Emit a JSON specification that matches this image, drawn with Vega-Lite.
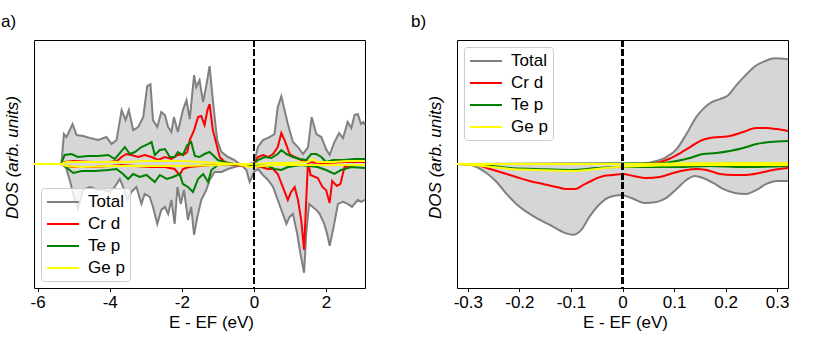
{
"$schema": "https://vega.github.io/schema/vega-lite/v6.json",
"padding": {"left": 0, "top": 12, "right": 0, "bottom": 0},
"config": {
 "font": "Liberation Sans",
 "view": {"stroke": "black", "strokeWidth": 1},
 "axis": {"grid": false, "domain": false, "labelFont": "Liberation Sans", "labelFontSize": 17, "labelColor": "black", "titleFont": "Liberation Sans", "titleFontSize": 17, "titleFontWeight": "normal", "titleColor": "black", "tickColor": "black", "tickSize": 3.5, "tickWidth": 1, "labelPadding": 3},
 "legend": {"title": null, "symbolType": "M-1,0H3", "symbolSize": 256, "symbolStrokeWidth": 2, "labelOffset": 24, "labelFont": "Liberation Sans", "labelFontSize": 17, "labelColor": "black", "padding": 5, "rowPadding": 5, "fillColor": "rgba(255,255,255,0.8)", "strokeColor": "#cccccc", "cornerRadius": 3},
 "title": {"font": "Liberation Sans", "fontSize": 17, "fontWeight": "normal", "color": "black", "anchor": "start", "frame": "group"}
},
"datasets": {
"a": [
{"E":-6.1,"series":"Total","spin":"up","dos":0},{"E":-5.34,"series":"Total","spin":"up","dos":0},{"E":-5.27,"series":"Total","spin":"up","dos":30},{"E":-5.2,"series":"Total","spin":"up","dos":27},{"E":-5.03,"series":"Total","spin":"up","dos":40},{"E":-4.92,"series":"Total","spin":"up","dos":29},{"E":-4.74,"series":"Total","spin":"up","dos":28},{"E":-4.55,"series":"Total","spin":"up","dos":26},{"E":-4.32,"series":"Total","spin":"up","dos":24},{"E":-4.09,"series":"Total","spin":"up","dos":27},{"E":-3.95,"series":"Total","spin":"up","dos":20},{"E":-3.81,"series":"Total","spin":"up","dos":24},{"E":-3.67,"series":"Total","spin":"up","dos":54},{"E":-3.56,"series":"Total","spin":"up","dos":44},{"E":-3.47,"series":"Total","spin":"up","dos":54},{"E":-3.35,"series":"Total","spin":"up","dos":34},{"E":-3.21,"series":"Total","spin":"up","dos":37},{"E":-3.07,"series":"Total","spin":"up","dos":47},{"E":-2.96,"series":"Total","spin":"up","dos":78},{"E":-2.87,"series":"Total","spin":"up","dos":80},{"E":-2.8,"series":"Total","spin":"up","dos":44},{"E":-2.68,"series":"Total","spin":"up","dos":37},{"E":-2.57,"series":"Total","spin":"up","dos":52},{"E":-2.47,"series":"Total","spin":"up","dos":49},{"E":-2.38,"series":"Total","spin":"up","dos":37},{"E":-2.29,"series":"Total","spin":"up","dos":32},{"E":-2.22,"series":"Total","spin":"up","dos":47},{"E":-2.11,"series":"Total","spin":"up","dos":32},{"E":-1.97,"series":"Total","spin":"up","dos":54},{"E":-1.87,"series":"Total","spin":"up","dos":64},{"E":-1.78,"series":"Total","spin":"up","dos":45},{"E":-1.66,"series":"Total","spin":"up","dos":89},{"E":-1.6,"series":"Total","spin":"up","dos":77},{"E":-1.51,"series":"Total","spin":"up","dos":84},{"E":-1.41,"series":"Total","spin":"up","dos":62},{"E":-1.32,"series":"Total","spin":"up","dos":79},{"E":-1.23,"series":"Total","spin":"up","dos":98},{"E":-1.14,"series":"Total","spin":"up","dos":64},{"E":-1.02,"series":"Total","spin":"up","dos":24},{"E":-0.9,"series":"Total","spin":"up","dos":12},{"E":-0.72,"series":"Total","spin":"up","dos":7},{"E":-0.54,"series":"Total","spin":"up","dos":4},{"E":-0.4,"series":"Total","spin":"up","dos":0},{"E":-0.17,"series":"Total","spin":"up","dos":0},{"E":0,"series":"Total","spin":"up","dos":1},{"E":0.11,"series":"Total","spin":"up","dos":17},{"E":0.25,"series":"Total","spin":"up","dos":24},{"E":0.43,"series":"Total","spin":"up","dos":27},{"E":0.57,"series":"Total","spin":"up","dos":30},{"E":0.66,"series":"Total","spin":"up","dos":57},{"E":0.76,"series":"Total","spin":"up","dos":68},{"E":0.85,"series":"Total","spin":"up","dos":54},{"E":0.94,"series":"Total","spin":"up","dos":40},{"E":1.08,"series":"Total","spin":"up","dos":22},{"E":1.22,"series":"Total","spin":"up","dos":17},{"E":1.36,"series":"Total","spin":"up","dos":10},{"E":1.5,"series":"Total","spin":"up","dos":17},{"E":1.6,"series":"Total","spin":"up","dos":47},{"E":1.73,"series":"Total","spin":"up","dos":30},{"E":1.87,"series":"Total","spin":"up","dos":27},{"E":2.0,"series":"Total","spin":"up","dos":15},{"E":2.1,"series":"Total","spin":"up","dos":9},{"E":2.22,"series":"Total","spin":"up","dos":21},{"E":2.36,"series":"Total","spin":"up","dos":31},{"E":2.47,"series":"Total","spin":"up","dos":26},{"E":2.6,"series":"Total","spin":"up","dos":42},{"E":2.7,"series":"Total","spin":"up","dos":36},{"E":2.79,"series":"Total","spin":"up","dos":49},{"E":2.88,"series":"Total","spin":"up","dos":50},{"E":2.97,"series":"Total","spin":"up","dos":40},{"E":3.03,"series":"Total","spin":"up","dos":42},{"E":3.08,"series":"Total","spin":"up","dos":39},
{"E":-6.1,"series":"Total","spin":"dn","dos":0},{"E":-5.3,"series":"Total","spin":"dn","dos":0},{"E":-5.2,"series":"Total","spin":"dn","dos":-5},{"E":-5.11,"series":"Total","spin":"dn","dos":-16},{"E":-5.01,"series":"Total","spin":"dn","dos":-30},{"E":-4.88,"series":"Total","spin":"dn","dos":-45},{"E":-4.74,"series":"Total","spin":"dn","dos":-26},{"E":-4.55,"series":"Total","spin":"dn","dos":-23},{"E":-4.32,"series":"Total","spin":"dn","dos":-26},{"E":-4.14,"series":"Total","spin":"dn","dos":-26},{"E":-4.0,"series":"Total","spin":"dn","dos":-28},{"E":-3.86,"series":"Total","spin":"dn","dos":-23},{"E":-3.72,"series":"Total","spin":"dn","dos":-15},{"E":-3.63,"series":"Total","spin":"dn","dos":-23},{"E":-3.51,"series":"Total","spin":"dn","dos":-36},{"E":-3.4,"series":"Total","spin":"dn","dos":-28},{"E":-3.26,"series":"Total","spin":"dn","dos":-23},{"E":-3.12,"series":"Total","spin":"dn","dos":-40},{"E":-3.03,"series":"Total","spin":"dn","dos":-30},{"E":-2.89,"series":"Total","spin":"dn","dos":-33},{"E":-2.8,"series":"Total","spin":"dn","dos":-43},{"E":-2.68,"series":"Total","spin":"dn","dos":-60},{"E":-2.57,"series":"Total","spin":"dn","dos":-46},{"E":-2.47,"series":"Total","spin":"dn","dos":-43},{"E":-2.38,"series":"Total","spin":"dn","dos":-50},{"E":-2.29,"series":"Total","spin":"dn","dos":-36},{"E":-2.2,"series":"Total","spin":"dn","dos":-60},{"E":-2.12,"series":"Total","spin":"dn","dos":-23},{"E":-2.03,"series":"Total","spin":"dn","dos":-40},{"E":-1.94,"series":"Total","spin":"dn","dos":-26},{"E":-1.83,"series":"Total","spin":"dn","dos":-56},{"E":-1.74,"series":"Total","spin":"dn","dos":-43},{"E":-1.66,"series":"Total","spin":"dn","dos":-71},{"E":-1.57,"series":"Total","spin":"dn","dos":-53},{"E":-1.46,"series":"Total","spin":"dn","dos":-36},{"E":-1.32,"series":"Total","spin":"dn","dos":-26},{"E":-1.23,"series":"Total","spin":"dn","dos":-16},{"E":-1.09,"series":"Total","spin":"dn","dos":-8},{"E":-0.9,"series":"Total","spin":"dn","dos":-8},{"E":-0.72,"series":"Total","spin":"dn","dos":-5},{"E":-0.54,"series":"Total","spin":"dn","dos":-3},{"E":-0.35,"series":"Total","spin":"dn","dos":-1},{"E":-0.21,"series":"Total","spin":"dn","dos":-6},{"E":-0.12,"series":"Total","spin":"dn","dos":-18},{"E":0,"series":"Total","spin":"dn","dos":-8},{"E":0.11,"series":"Total","spin":"dn","dos":-5},{"E":0.25,"series":"Total","spin":"dn","dos":-11},{"E":0.39,"series":"Total","spin":"dn","dos":-16},{"E":0.53,"series":"Total","spin":"dn","dos":-23},{"E":0.66,"series":"Total","spin":"dn","dos":-36},{"E":0.8,"series":"Total","spin":"dn","dos":-50},{"E":0.9,"series":"Total","spin":"dn","dos":-60},{"E":0.99,"series":"Total","spin":"dn","dos":-53},{"E":1.08,"series":"Total","spin":"dn","dos":-50},{"E":1.2,"series":"Total","spin":"dn","dos":-70},{"E":1.29,"series":"Total","spin":"dn","dos":-90},{"E":1.39,"series":"Total","spin":"dn","dos":-109},{"E":1.45,"series":"Total","spin":"dn","dos":-70},{"E":1.53,"series":"Total","spin":"dn","dos":-40},{"E":1.63,"series":"Total","spin":"dn","dos":-43},{"E":1.73,"series":"Total","spin":"dn","dos":-46},{"E":1.82,"series":"Total","spin":"dn","dos":-50},{"E":1.95,"series":"Total","spin":"dn","dos":-60},{"E":2.03,"series":"Total","spin":"dn","dos":-70},{"E":2.1,"series":"Total","spin":"dn","dos":-82},{"E":2.2,"series":"Total","spin":"dn","dos":-65},{"E":2.33,"series":"Total","spin":"dn","dos":-40},{"E":2.47,"series":"Total","spin":"dn","dos":-38},{"E":2.6,"series":"Total","spin":"dn","dos":-40},{"E":2.72,"series":"Total","spin":"dn","dos":-43},{"E":2.88,"series":"Total","spin":"dn","dos":-36},{"E":2.97,"series":"Total","spin":"dn","dos":-38},{"E":3.08,"series":"Total","spin":"dn","dos":-36},
{"E":-6.1,"series":"Cr d","spin":"up","dos":0},{"E":-5.35,"series":"Cr d","spin":"up","dos":0},{"E":-5.25,"series":"Cr d","spin":"up","dos":2},{"E":-5.0,"series":"Cr d","spin":"up","dos":3},{"E":-4.5,"series":"Cr d","spin":"up","dos":2},{"E":-4.0,"series":"Cr d","spin":"up","dos":2},{"E":-3.8,"series":"Cr d","spin":"up","dos":3},{"E":-3.67,"series":"Cr d","spin":"up","dos":7},{"E":-3.54,"series":"Cr d","spin":"up","dos":10},{"E":-3.4,"series":"Cr d","spin":"up","dos":9},{"E":-3.21,"series":"Cr d","spin":"up","dos":7},{"E":-3.03,"series":"Cr d","spin":"up","dos":9},{"E":-2.84,"series":"Cr d","spin":"up","dos":7},{"E":-2.66,"series":"Cr d","spin":"up","dos":4},{"E":-2.47,"series":"Cr d","spin":"up","dos":7},{"E":-2.29,"series":"Cr d","spin":"up","dos":5},{"E":-2.11,"series":"Cr d","spin":"up","dos":9},{"E":-1.92,"series":"Cr d","spin":"up","dos":10},{"E":-1.85,"series":"Cr d","spin":"up","dos":12},{"E":-1.78,"series":"Cr d","spin":"up","dos":24},{"E":-1.66,"series":"Cr d","spin":"up","dos":34},{"E":-1.55,"series":"Cr d","spin":"up","dos":47},{"E":-1.46,"series":"Cr d","spin":"up","dos":48},{"E":-1.37,"series":"Cr d","spin":"up","dos":39},{"E":-1.29,"series":"Cr d","spin":"up","dos":54},{"E":-1.23,"series":"Cr d","spin":"up","dos":60},{"E":-1.14,"series":"Cr d","spin":"up","dos":34},{"E":-1.04,"series":"Cr d","spin":"up","dos":20},{"E":-0.95,"series":"Cr d","spin":"up","dos":7},{"E":-0.81,"series":"Cr d","spin":"up","dos":2},{"E":-0.6,"series":"Cr d","spin":"up","dos":0},{"E":0,"series":"Cr d","spin":"up","dos":0},{"E":0.11,"series":"Cr d","spin":"up","dos":7},{"E":0.25,"series":"Cr d","spin":"up","dos":9},{"E":0.39,"series":"Cr d","spin":"up","dos":7},{"E":0.53,"series":"Cr d","spin":"up","dos":10},{"E":0.66,"series":"Cr d","spin":"up","dos":17},{"E":0.76,"series":"Cr d","spin":"up","dos":31},{"E":0.85,"series":"Cr d","spin":"up","dos":24},{"E":0.99,"series":"Cr d","spin":"up","dos":10},{"E":1.13,"series":"Cr d","spin":"up","dos":7},{"E":1.31,"series":"Cr d","spin":"up","dos":4},{"E":1.5,"series":"Cr d","spin":"up","dos":2},{"E":1.8,"series":"Cr d","spin":"up","dos":1},{"E":2.0,"series":"Cr d","spin":"up","dos":1},{"E":2.5,"series":"Cr d","spin":"up","dos":2},{"E":3.08,"series":"Cr d","spin":"up","dos":2},
{"E":-6.1,"series":"Cr d","spin":"dn","dos":0},{"E":-5.35,"series":"Cr d","spin":"dn","dos":0},{"E":-5.25,"series":"Cr d","spin":"dn","dos":-2},{"E":-5.0,"series":"Cr d","spin":"dn","dos":-3},{"E":-4.5,"series":"Cr d","spin":"dn","dos":-3},{"E":-4.0,"series":"Cr d","spin":"dn","dos":-2},{"E":-3.67,"series":"Cr d","spin":"dn","dos":-1},{"E":-3.3,"series":"Cr d","spin":"dn","dos":-2},{"E":-2.84,"series":"Cr d","spin":"dn","dos":-3},{"E":-2.47,"series":"Cr d","spin":"dn","dos":-3},{"E":-2.2,"series":"Cr d","spin":"dn","dos":-5},{"E":-2.06,"series":"Cr d","spin":"dn","dos":-11},{"E":-1.97,"series":"Cr d","spin":"dn","dos":-5},{"E":-1.8,"series":"Cr d","spin":"dn","dos":-3},{"E":-1.5,"series":"Cr d","spin":"dn","dos":-2},{"E":-1.2,"series":"Cr d","spin":"dn","dos":-1},{"E":-0.8,"series":"Cr d","spin":"dn","dos":0},{"E":-0.26,"series":"Cr d","spin":"dn","dos":-2},{"E":0,"series":"Cr d","spin":"dn","dos":-2},{"E":0.2,"series":"Cr d","spin":"dn","dos":-3},{"E":0.39,"series":"Cr d","spin":"dn","dos":-5},{"E":0.53,"series":"Cr d","spin":"dn","dos":-5},{"E":0.66,"series":"Cr d","spin":"dn","dos":-10},{"E":0.8,"series":"Cr d","spin":"dn","dos":-23},{"E":0.94,"series":"Cr d","spin":"dn","dos":-36},{"E":1.03,"series":"Cr d","spin":"dn","dos":-28},{"E":1.13,"series":"Cr d","spin":"dn","dos":-23},{"E":1.22,"series":"Cr d","spin":"dn","dos":-36},{"E":1.31,"series":"Cr d","spin":"dn","dos":-56},{"E":1.39,"series":"Cr d","spin":"dn","dos":-86},{"E":1.45,"series":"Cr d","spin":"dn","dos":-36},{"E":1.5,"series":"Cr d","spin":"dn","dos":3},{"E":1.57,"series":"Cr d","spin":"dn","dos":-11},{"E":1.77,"series":"Cr d","spin":"dn","dos":-14},{"E":1.9,"series":"Cr d","spin":"dn","dos":-23},{"E":2.0,"series":"Cr d","spin":"dn","dos":-26},{"E":2.1,"series":"Cr d","spin":"dn","dos":-39},{"E":2.17,"series":"Cr d","spin":"dn","dos":-17},{"E":2.3,"series":"Cr d","spin":"dn","dos":-22},{"E":2.4,"series":"Cr d","spin":"dn","dos":-20},{"E":2.51,"series":"Cr d","spin":"dn","dos":-3},{"E":2.7,"series":"Cr d","spin":"dn","dos":-1},{"E":3.08,"series":"Cr d","spin":"dn","dos":-1},
{"E":-6.1,"series":"Te p","spin":"up","dos":0},{"E":-5.35,"series":"Te p","spin":"up","dos":0},{"E":-5.25,"series":"Te p","spin":"up","dos":9},{"E":-5.06,"series":"Te p","spin":"up","dos":10},{"E":-4.88,"series":"Te p","spin":"up","dos":7},{"E":-4.6,"series":"Te p","spin":"up","dos":8},{"E":-4.32,"series":"Te p","spin":"up","dos":8},{"E":-4.04,"series":"Te p","spin":"up","dos":9},{"E":-3.86,"series":"Te p","spin":"up","dos":5},{"E":-3.72,"series":"Te p","spin":"up","dos":11},{"E":-3.58,"series":"Te p","spin":"up","dos":17},{"E":-3.44,"series":"Te p","spin":"up","dos":10},{"E":-3.3,"series":"Te p","spin":"up","dos":12},{"E":-3.12,"series":"Te p","spin":"up","dos":17},{"E":-2.94,"series":"Te p","spin":"up","dos":20},{"E":-2.84,"series":"Te p","spin":"up","dos":22},{"E":-2.75,"series":"Te p","spin":"up","dos":9},{"E":-2.61,"series":"Te p","spin":"up","dos":14},{"E":-2.47,"series":"Te p","spin":"up","dos":15},{"E":-2.33,"series":"Te p","spin":"up","dos":7},{"E":-2.2,"series":"Te p","spin":"up","dos":7},{"E":-2.11,"series":"Te p","spin":"up","dos":12},{"E":-1.97,"series":"Te p","spin":"up","dos":9},{"E":-1.85,"series":"Te p","spin":"up","dos":19},{"E":-1.74,"series":"Te p","spin":"up","dos":22},{"E":-1.64,"series":"Te p","spin":"up","dos":8},{"E":-1.51,"series":"Te p","spin":"up","dos":7},{"E":-1.37,"series":"Te p","spin":"up","dos":10},{"E":-1.23,"series":"Te p","spin":"up","dos":12},{"E":-1.14,"series":"Te p","spin":"up","dos":9},{"E":-1.0,"series":"Te p","spin":"up","dos":4},{"E":-0.72,"series":"Te p","spin":"up","dos":1},{"E":-0.54,"series":"Te p","spin":"up","dos":0},{"E":0,"series":"Te p","spin":"up","dos":0},{"E":0.11,"series":"Te p","spin":"up","dos":4},{"E":0.3,"series":"Te p","spin":"up","dos":7},{"E":0.48,"series":"Te p","spin":"up","dos":6},{"E":0.66,"series":"Te p","spin":"up","dos":10},{"E":0.76,"series":"Te p","spin":"up","dos":14},{"E":0.9,"series":"Te p","spin":"up","dos":10},{"E":1.08,"series":"Te p","spin":"up","dos":7},{"E":1.27,"series":"Te p","spin":"up","dos":5},{"E":1.45,"series":"Te p","spin":"up","dos":4},{"E":1.59,"series":"Te p","spin":"up","dos":10},{"E":1.73,"series":"Te p","spin":"up","dos":10},{"E":1.87,"series":"Te p","spin":"up","dos":7},{"E":2.0,"series":"Te p","spin":"up","dos":2},{"E":2.2,"series":"Te p","spin":"up","dos":4},{"E":2.5,"series":"Te p","spin":"up","dos":4},{"E":2.8,"series":"Te p","spin":"up","dos":5},{"E":3.08,"series":"Te p","spin":"up","dos":5},
{"E":-6.1,"series":"Te p","spin":"dn","dos":0},{"E":-5.3,"series":"Te p","spin":"dn","dos":0},{"E":-5.15,"series":"Te p","spin":"dn","dos":-5},{"E":-5.01,"series":"Te p","spin":"dn","dos":-9},{"E":-4.78,"series":"Te p","spin":"dn","dos":-7},{"E":-4.41,"series":"Te p","spin":"dn","dos":-7},{"E":-4.04,"series":"Te p","spin":"dn","dos":-6},{"E":-3.81,"series":"Te p","spin":"dn","dos":-5},{"E":-3.63,"series":"Te p","spin":"dn","dos":-10},{"E":-3.49,"series":"Te p","spin":"dn","dos":-15},{"E":-3.35,"series":"Te p","spin":"dn","dos":-10},{"E":-3.17,"series":"Te p","spin":"dn","dos":-13},{"E":-2.98,"series":"Te p","spin":"dn","dos":-11},{"E":-2.75,"series":"Te p","spin":"dn","dos":-18},{"E":-2.61,"series":"Te p","spin":"dn","dos":-11},{"E":-2.42,"series":"Te p","spin":"dn","dos":-15},{"E":-2.24,"series":"Te p","spin":"dn","dos":-13},{"E":-2.06,"series":"Te p","spin":"dn","dos":-10},{"E":-1.97,"series":"Te p","spin":"dn","dos":-20},{"E":-1.83,"series":"Te p","spin":"dn","dos":-23},{"E":-1.69,"series":"Te p","spin":"dn","dos":-28},{"E":-1.55,"series":"Te p","spin":"dn","dos":-15},{"E":-1.41,"series":"Te p","spin":"dn","dos":-10},{"E":-1.27,"series":"Te p","spin":"dn","dos":-18},{"E":-1.18,"series":"Te p","spin":"dn","dos":-6},{"E":-1.0,"series":"Te p","spin":"dn","dos":-1},{"E":-0.5,"series":"Te p","spin":"dn","dos":0},{"E":0,"series":"Te p","spin":"dn","dos":-1},{"E":0.39,"series":"Te p","spin":"dn","dos":-2},{"E":0.57,"series":"Te p","spin":"dn","dos":-5},{"E":0.76,"series":"Te p","spin":"dn","dos":-6},{"E":0.94,"series":"Te p","spin":"dn","dos":-3},{"E":1.31,"series":"Te p","spin":"dn","dos":-1},{"E":1.77,"series":"Te p","spin":"dn","dos":-3},{"E":2.0,"series":"Te p","spin":"dn","dos":-6},{"E":2.23,"series":"Te p","spin":"dn","dos":-10},{"E":2.42,"series":"Te p","spin":"dn","dos":-6},{"E":2.7,"series":"Te p","spin":"dn","dos":-3},{"E":3.08,"series":"Te p","spin":"dn","dos":-4},
{"E":-6.1,"series":"Ge p","spin":"up","dos":0},{"E":-5.35,"series":"Ge p","spin":"up","dos":0},{"E":-5.2,"series":"Ge p","spin":"up","dos":2},{"E":-4.5,"series":"Ge p","spin":"up","dos":2},{"E":-3.5,"series":"Ge p","spin":"up","dos":2},{"E":-3.0,"series":"Ge p","spin":"up","dos":3},{"E":-2.5,"series":"Ge p","spin":"up","dos":3},{"E":-2.0,"series":"Ge p","spin":"up","dos":3},{"E":-1.5,"series":"Ge p","spin":"up","dos":2},{"E":-1.0,"series":"Ge p","spin":"up","dos":1},{"E":-0.5,"series":"Ge p","spin":"up","dos":0},{"E":0,"series":"Ge p","spin":"up","dos":0},{"E":0.5,"series":"Ge p","spin":"up","dos":1},{"E":1.0,"series":"Ge p","spin":"up","dos":1},{"E":1.5,"series":"Ge p","spin":"up","dos":2},{"E":1.63,"series":"Ge p","spin":"up","dos":5},{"E":1.75,"series":"Ge p","spin":"up","dos":2},{"E":2.2,"series":"Ge p","spin":"up","dos":2},{"E":2.6,"series":"Ge p","spin":"up","dos":3},{"E":3.08,"series":"Ge p","spin":"up","dos":3},
{"E":-6.1,"series":"Ge p","spin":"dn","dos":0},{"E":-5.35,"series":"Ge p","spin":"dn","dos":0},{"E":-5.2,"series":"Ge p","spin":"dn","dos":-2},{"E":-4.8,"series":"Ge p","spin":"dn","dos":-3},{"E":-4.0,"series":"Ge p","spin":"dn","dos":-2},{"E":-3.0,"series":"Ge p","spin":"dn","dos":-2},{"E":-2.0,"series":"Ge p","spin":"dn","dos":-2},{"E":-1.0,"series":"Ge p","spin":"dn","dos":-1},{"E":-0.5,"series":"Ge p","spin":"dn","dos":0},{"E":-0.1,"series":"Ge p","spin":"dn","dos":-3},{"E":0.2,"series":"Ge p","spin":"dn","dos":-2},{"E":0.8,"series":"Ge p","spin":"dn","dos":-1},{"E":1.5,"series":"Ge p","spin":"dn","dos":-1},{"E":2.0,"series":"Ge p","spin":"dn","dos":-1},{"E":3.08,"series":"Ge p","spin":"dn","dos":-1}
],
"b": [
{"E":-0.321,"series":"Total","spin":"up","dos":0},{"E":0.04,"series":"Total","spin":"up","dos":0.5},{"E":0.066,"series":"Total","spin":"up","dos":3},{"E":0.085,"series":"Total","spin":"up","dos":7},{"E":0.105,"series":"Total","spin":"up","dos":15},{"E":0.124,"series":"Total","spin":"up","dos":30},{"E":0.143,"series":"Total","spin":"up","dos":47},{"E":0.156,"series":"Total","spin":"up","dos":55},{"E":0.173,"series":"Total","spin":"up","dos":62},{"E":0.189,"series":"Total","spin":"up","dos":65},{"E":0.205,"series":"Total","spin":"up","dos":69},{"E":0.221,"series":"Total","spin":"up","dos":79},{"E":0.237,"series":"Total","spin":"up","dos":88},{"E":0.257,"series":"Total","spin":"up","dos":98},{"E":0.276,"series":"Total","spin":"up","dos":103},{"E":0.295,"series":"Total","spin":"up","dos":106},{"E":0.321,"series":"Total","spin":"up","dos":105},
{"E":-0.321,"series":"Total","spin":"dn","dos":0},{"E":-0.302,"series":"Total","spin":"dn","dos":0},{"E":-0.283,"series":"Total","spin":"dn","dos":-3},{"E":-0.264,"series":"Total","spin":"dn","dos":-9},{"E":-0.244,"series":"Total","spin":"dn","dos":-18},{"E":-0.225,"series":"Total","spin":"dn","dos":-30},{"E":-0.206,"series":"Total","spin":"dn","dos":-40},{"E":-0.186,"series":"Total","spin":"dn","dos":-48},{"E":-0.164,"series":"Total","spin":"dn","dos":-55},{"E":-0.141,"series":"Total","spin":"dn","dos":-61},{"E":-0.112,"series":"Total","spin":"dn","dos":-69},{"E":-0.096,"series":"Total","spin":"dn","dos":-71},{"E":-0.08,"series":"Total","spin":"dn","dos":-66},{"E":-0.063,"series":"Total","spin":"dn","dos":-52},{"E":-0.044,"series":"Total","spin":"dn","dos":-40},{"E":-0.025,"series":"Total","spin":"dn","dos":-33},{"E":-0.002,"series":"Total","spin":"dn","dos":-31},{"E":0.017,"series":"Total","spin":"dn","dos":-34},{"E":0.043,"series":"Total","spin":"dn","dos":-39},{"E":0.066,"series":"Total","spin":"dn","dos":-38},{"E":0.085,"series":"Total","spin":"dn","dos":-34},{"E":0.105,"series":"Total","spin":"dn","dos":-25},{"E":0.124,"series":"Total","spin":"dn","dos":-16},{"E":0.14,"series":"Total","spin":"dn","dos":-12},{"E":0.156,"series":"Total","spin":"dn","dos":-14},{"E":0.176,"series":"Total","spin":"dn","dos":-19},{"E":0.195,"series":"Total","spin":"dn","dos":-25},{"E":0.218,"series":"Total","spin":"dn","dos":-29},{"E":0.24,"series":"Total","spin":"dn","dos":-30},{"E":0.26,"series":"Total","spin":"dn","dos":-26},{"E":0.279,"series":"Total","spin":"dn","dos":-20},{"E":0.299,"series":"Total","spin":"dn","dos":-17},{"E":0.321,"series":"Total","spin":"dn","dos":-17},
{"E":-0.321,"series":"Cr d","spin":"up","dos":0},{"E":0.04,"series":"Cr d","spin":"up","dos":0},{"E":0.066,"series":"Cr d","spin":"up","dos":1},{"E":0.085,"series":"Cr d","spin":"up","dos":4},{"E":0.105,"series":"Cr d","spin":"up","dos":9},{"E":0.131,"series":"Cr d","spin":"up","dos":17},{"E":0.15,"series":"Cr d","spin":"up","dos":23},{"E":0.169,"series":"Cr d","spin":"up","dos":26},{"E":0.189,"series":"Cr d","spin":"up","dos":27},{"E":0.208,"series":"Cr d","spin":"up","dos":28},{"E":0.234,"series":"Cr d","spin":"up","dos":32},{"E":0.26,"series":"Cr d","spin":"up","dos":36},{"E":0.279,"series":"Cr d","spin":"up","dos":36},{"E":0.299,"series":"Cr d","spin":"up","dos":35},{"E":0.321,"series":"Cr d","spin":"up","dos":33},
{"E":-0.321,"series":"Cr d","spin":"dn","dos":0},{"E":-0.283,"series":"Cr d","spin":"dn","dos":-1},{"E":-0.257,"series":"Cr d","spin":"dn","dos":-5},{"E":-0.231,"series":"Cr d","spin":"dn","dos":-9},{"E":-0.206,"series":"Cr d","spin":"dn","dos":-13},{"E":-0.18,"series":"Cr d","spin":"dn","dos":-17},{"E":-0.154,"series":"Cr d","spin":"dn","dos":-20},{"E":-0.128,"series":"Cr d","spin":"dn","dos":-23},{"E":-0.109,"series":"Cr d","spin":"dn","dos":-25},{"E":-0.092,"series":"Cr d","spin":"dn","dos":-25},{"E":-0.076,"series":"Cr d","spin":"dn","dos":-21},{"E":-0.057,"series":"Cr d","spin":"dn","dos":-16},{"E":-0.037,"series":"Cr d","spin":"dn","dos":-12},{"E":-0.018,"series":"Cr d","spin":"dn","dos":-11},{"E":0.001,"series":"Cr d","spin":"dn","dos":-10},{"E":0.021,"series":"Cr d","spin":"dn","dos":-12},{"E":0.047,"series":"Cr d","spin":"dn","dos":-14},{"E":0.072,"series":"Cr d","spin":"dn","dos":-13},{"E":0.098,"series":"Cr d","spin":"dn","dos":-9},{"E":0.124,"series":"Cr d","spin":"dn","dos":-6},{"E":0.143,"series":"Cr d","spin":"dn","dos":-5},{"E":0.163,"series":"Cr d","spin":"dn","dos":-6},{"E":0.189,"series":"Cr d","spin":"dn","dos":-10},{"E":0.215,"series":"Cr d","spin":"dn","dos":-11},{"E":0.24,"series":"Cr d","spin":"dn","dos":-11},{"E":0.266,"series":"Cr d","spin":"dn","dos":-9},{"E":0.292,"series":"Cr d","spin":"dn","dos":-6},{"E":0.321,"series":"Cr d","spin":"dn","dos":-4},
{"E":-0.321,"series":"Te p","spin":"up","dos":0},{"E":0.07,"series":"Te p","spin":"up","dos":0.5},{"E":0.105,"series":"Te p","spin":"up","dos":3},{"E":0.131,"series":"Te p","spin":"up","dos":6},{"E":0.156,"series":"Te p","spin":"up","dos":10},{"E":0.182,"series":"Te p","spin":"up","dos":11},{"E":0.208,"series":"Te p","spin":"up","dos":13},{"E":0.234,"series":"Te p","spin":"up","dos":16},{"E":0.26,"series":"Te p","spin":"up","dos":20},{"E":0.286,"series":"Te p","spin":"up","dos":22},{"E":0.321,"series":"Te p","spin":"up","dos":23},
{"E":-0.321,"series":"Te p","spin":"dn","dos":0},{"E":-0.27,"series":"Te p","spin":"dn","dos":-1},{"E":-0.218,"series":"Te p","spin":"dn","dos":-4},{"E":-0.167,"series":"Te p","spin":"dn","dos":-5},{"E":-0.102,"series":"Te p","spin":"dn","dos":-6},{"E":-0.05,"series":"Te p","spin":"dn","dos":-4},{"E":-0.012,"series":"Te p","spin":"dn","dos":-3},{"E":0.04,"series":"Te p","spin":"dn","dos":-3},{"E":0.105,"series":"Te p","spin":"dn","dos":-3},{"E":0.169,"series":"Te p","spin":"dn","dos":-2},{"E":0.234,"series":"Te p","spin":"dn","dos":-3},{"E":0.321,"series":"Te p","spin":"dn","dos":-2},
{"E":-0.321,"series":"Ge p","spin":"up","dos":0},{"E":0,"series":"Ge p","spin":"up","dos":0},{"E":0.1,"series":"Ge p","spin":"up","dos":0.5},{"E":0.2,"series":"Ge p","spin":"up","dos":1},{"E":0.321,"series":"Ge p","spin":"up","dos":1},
{"E":-0.321,"series":"Ge p","spin":"dn","dos":0},{"E":-0.27,"series":"Ge p","spin":"dn","dos":-2},{"E":-0.218,"series":"Ge p","spin":"dn","dos":-5},{"E":-0.167,"series":"Ge p","spin":"dn","dos":-6},{"E":-0.1,"series":"Ge p","spin":"dn","dos":-7},{"E":-0.05,"series":"Ge p","spin":"dn","dos":-5},{"E":-0.012,"series":"Ge p","spin":"dn","dos":-3},{"E":0.04,"series":"Ge p","spin":"dn","dos":-2},{"E":0.15,"series":"Ge p","spin":"dn","dos":-1},{"E":0.321,"series":"Ge p","spin":"dn","dos":-1}
]
},
"resolve": {"scale": {"color": "independent"}, "legend": {"color": "independent"}},
"spacing": 40,
"hconcat": [
{
 "width": 331, "height": 248,
 "title": {"text": "a)", "dx": -33, "offset": 8},
 "data": {"name": "a"},
 "layer": [
  {"transform": [{"filter": "datum.series === 'Total'"}],
   "mark": {"type": "area", "color": "#d6d6d6", "opacity": 1},
   "encoding": {
    "x": {"field": "E", "type": "quantitative", "scale": {"domain": [-6.1, 3.08], "nice": false, "zero": false},
          "axis": {"values": [-6, -4, -2, 0, 2], "title": "E - EF (eV)", "titleX": 177, "titlePadding": 4, "labelExpr": "replace(format(datum.value, '~g'), '\u2212', '-')"}},
    "y": {"field": "dos", "type": "quantitative", "scale": {"domain": [-124.25, 124.25], "nice": false},
          "axis": {"title": "DOS (arb. units)", "titleFontStyle": "italic", "labels": false, "ticks": false, "titlePadding": 13, "titleY": 117}},
    "y2": {"datum": 0},
    "detail": {"field": "spin"}
   }},
  {"mark": {"type": "line", "strokeWidth": 2},
   "encoding": {
    "x": {"field": "E", "type": "quantitative"},
    "y": {"field": "dos", "type": "quantitative"},
    "color": {"field": "series", "type": "nominal", "sort": ["Total", "Cr d", "Te p", "Ge p"],
              "scale": {"domain": ["Total", "Cr d", "Te p", "Ge p"], "range": ["#808080", "#ff0000", "#008000", "#ffff00"]},
              "legend": {"orient": "bottom-left", "offset": 7}},
    "detail": {"field": "spin"}
   }},
  {"mark": {"type": "rule", "color": "black", "strokeWidth": 1.8, "strokeDash": [6.5, 3]},
   "encoding": {"x": {"datum": 0}}}
 ]
},
{
 "width": 331, "height": 248,
 "title": {"text": "b)", "dx": -46, "offset": 8},
 "data": {"name": "b"},
 "layer": [
  {"transform": [{"filter": "datum.series === 'Total'"}],
   "mark": {"type": "area", "color": "#d6d6d6", "opacity": 1, "interpolate": "monotone"},
   "encoding": {
    "x": {"field": "E", "type": "quantitative", "scale": {"domain": [-0.321, 0.321], "nice": false, "zero": false},
          "axis": {"values": [-0.3, -0.2, -0.1, 0, 0.1, 0.2, 0.3], "title": "E - EF (eV)", "titleX": 168, "titlePadding": 4, "labelExpr": "replace(format(datum.value, '~g'), '\u2212', '-')"}},
    "y": {"field": "dos", "type": "quantitative", "scale": {"domain": [-124.25, 124.25], "nice": false},
          "axis": {"title": "DOS (arb. units)", "titleFontStyle": "italic", "labels": false, "ticks": false, "titlePadding": 13, "titleY": 117}},
    "y2": {"datum": 0},
    "detail": {"field": "spin"}
   }},
  {"mark": {"type": "line", "strokeWidth": 2, "interpolate": "monotone"},
   "encoding": {
    "x": {"field": "E", "type": "quantitative"},
    "y": {"field": "dos", "type": "quantitative"},
    "color": {"field": "series", "type": "nominal", "sort": ["Total", "Cr d", "Te p", "Ge p"],
              "scale": {"domain": ["Total", "Cr d", "Te p", "Ge p"], "range": ["#808080", "#ff0000", "#008000", "#ffff00"]},
              "legend": {"orient": "top-left", "offset": 7}},
    "detail": {"field": "spin"}
   }},
  {"mark": {"type": "rule", "color": "black", "strokeWidth": 1.8, "strokeDash": [6.5, 3]},
   "encoding": {"x": {"datum": 0}}}
 ]
}
]
}
